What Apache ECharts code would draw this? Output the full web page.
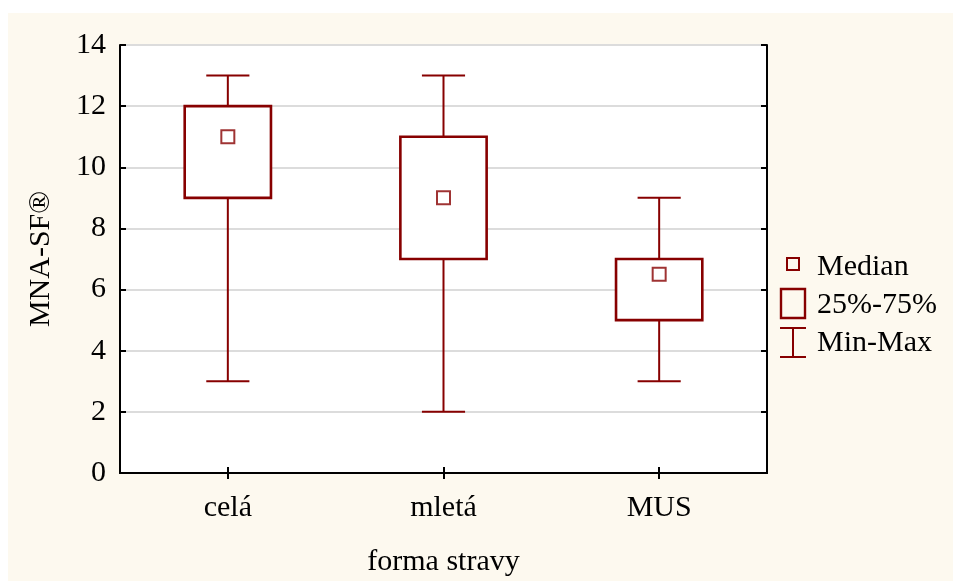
<!DOCTYPE html>
<html>
<head>
<meta charset="utf-8">
<script src="https://cdn.jsdelivr.net/npm/echarts@6/dist/echarts.min.js"></script>
<style>
html,body{margin:0;padding:0;background:#ffffff;}
#wrap{position:relative;width:953px;height:581px;background:#ffffff;overflow:hidden;}
#c{position:absolute;left:8px;top:13px;width:945px;height:568px;}
</style>
</head>
<body>
<div id="wrap"><div id="c"></div></div>
<script>
const categories = ['celá', 'mletá', 'MUS'];
const minValues = [3, 2, 3];
const q1Values = [9, 7, 5];
const medianValues = [11, 9, 6.5];
const q3Values = [12, 11, 7];
const maxValues = [13, 13, 9];
const yTicks = [0, 2, 4, 6, 8, 10, 12, 14];

const RED = '#870000';
const FONT = '"Liberation Serif", "Times New Roman", serif';
const FS = 30;

const boxData = categories.map((c, i) => [i, minValues[i], q1Values[i], q3Values[i], maxValues[i]]);
const medianData = categories.map((c, i) => [i, medianValues[i]]);

const chart = echarts.init(document.getElementById('c'), null, {renderer: 'canvas'});

function renderBox(params, api) {
  const idx = api.value(0);
  const pMin = api.coord([idx, api.value(1)]);
  const pQ1 = api.coord([idx, api.value(2)]);
  const pQ3 = api.coord([idx, api.value(3)]);
  const pMax = api.coord([idx, api.value(4)]);
  const band = api.size([1, 0])[0];
  const bw = band * 0.4;
  const cw = band * 0.2;
  const x = pQ1[0];
  const lineStyle = {stroke: RED, lineWidth: 2, fill: null};
  return {
    type: 'group',
    children: [
      {type: 'line', shape: {x1: x, y1: pMax[1], x2: x, y2: pQ3[1]}, style: lineStyle},
      {type: 'line', shape: {x1: x, y1: pQ1[1], x2: x, y2: pMin[1]}, style: lineStyle},
      {type: 'line', shape: {x1: x - cw / 2, y1: pMax[1], x2: x + cw / 2, y2: pMax[1]}, style: lineStyle},
      {type: 'line', shape: {x1: x - cw / 2, y1: pMin[1], x2: x + cw / 2, y2: pMin[1]}, style: lineStyle},
      {type: 'rect', shape: {x: x - bw / 2, y: pQ3[1], width: bw, height: pQ1[1] - pQ3[1]},
        style: {stroke: RED, lineWidth: 2.6, fill: '#ffffff'}}
    ]
  };
}

const legendStyle = {stroke: RED, lineWidth: 2, fill: null};
const textStyle = (t, y) => ({type: 'text', left: 809, top: y, style: {text: t, font: FS + 'px ' + FONT, fill: '#000'}});

const option = {
  backgroundColor: '#fdf9ef',
  animation: false,
  grid: {left: 112, top: 32, width: 647, height: 428, containLabel: false, outerBoundsMode: 'none',
    show: true, backgroundColor: '#ffffff', borderColor: '#000', borderWidth: 0},
  xAxis: [
    {type: 'category', data: categories, position: 'bottom',
      axisLine: {show: true, lineStyle: {color: '#000', width: 2}},
      axisTick: {show: true, inside: true, alignWithLabel: true, length: 6, lineStyle: {color: '#000', width: 2}},
      axisLabel: {fontFamily: FONT, fontSize: FS, color: '#000', margin: 20},
      name: 'forma stravy', nameLocation: 'middle', nameGap: 74,
      nameTextStyle: {fontFamily: FONT, fontSize: FS, color: '#000'}},
    {type: 'category', data: categories, position: 'top',
      axisLine: {show: true, lineStyle: {color: '#000', width: 2}},
      axisTick: {show: true, inside: true, alignWithLabel: true, length: 6, lineStyle: {color: '#000', width: 2}},
      axisLabel: {show: false}}
  ],
  yAxis: [
    {type: 'value', min: 0, max: 14, interval: 2, position: 'left',
      axisLine: {show: true, lineStyle: {color: '#000', width: 2}},
      axisTick: {show: true, inside: true, length: 6, lineStyle: {color: '#000', width: 2}},
      axisLabel: {fontFamily: FONT, fontSize: FS, color: '#000', margin: 14,
        formatter: v => yTicks.includes(v) ? String(v) : ''},
      splitLine: {show: true, lineStyle: {color: '#dcdcdc', width: 2}},
      name: 'MNA-SF®', nameLocation: 'middle', nameGap: 64, nameRotate: 90,
      nameTextStyle: {fontFamily: FONT, fontSize: FS, color: '#000'}},
    {type: 'value', min: 0, max: 14, interval: 2, position: 'right',
      axisLine: {show: true, lineStyle: {color: '#000', width: 2}},
      axisTick: {show: true, inside: true, length: 6, lineStyle: {color: '#000', width: 2}},
      axisLabel: {show: false}, splitLine: {show: false}}
  ],
  series: [
    {name: '25%-75%', type: 'custom', xAxisIndex: 0, yAxisIndex: 0, renderItem: renderBox,
      data: boxData, encode: {x: 0, y: [1, 2, 3, 4]}, z: 3},
    {name: 'Median', type: 'scatter', xAxisIndex: 0, yAxisIndex: 0, data: medianData,
      symbol: 'rect', symbolSize: 13,
      itemStyle: {color: '#ffffff', borderColor: RED, borderWidth: 2}, z: 5}
  ],
  graphic: [
    {type: 'rect', shape: {x: 779, y: 245, width: 12, height: 12}, style: {stroke: RED, lineWidth: 2, fill: null}},
    textStyle('Median', 239),
    {type: 'rect', shape: {x: 773, y: 276, width: 24, height: 29}, style: {stroke: RED, lineWidth: 2.4, fill: null}},
    textStyle('25%-75%', 277),
    {type: 'group', children: [
      {type: 'line', shape: {x1: 772, y1: 315, x2: 798, y2: 315}, style: legendStyle},
      {type: 'line', shape: {x1: 785, y1: 315, x2: 785, y2: 344}, style: legendStyle},
      {type: 'line', shape: {x1: 772, y1: 344, x2: 798, y2: 344}, style: legendStyle}
    ]},
    textStyle('Min-Max', 315)
  ]
};
chart.setOption(option);
</script>
</body>
</html>
